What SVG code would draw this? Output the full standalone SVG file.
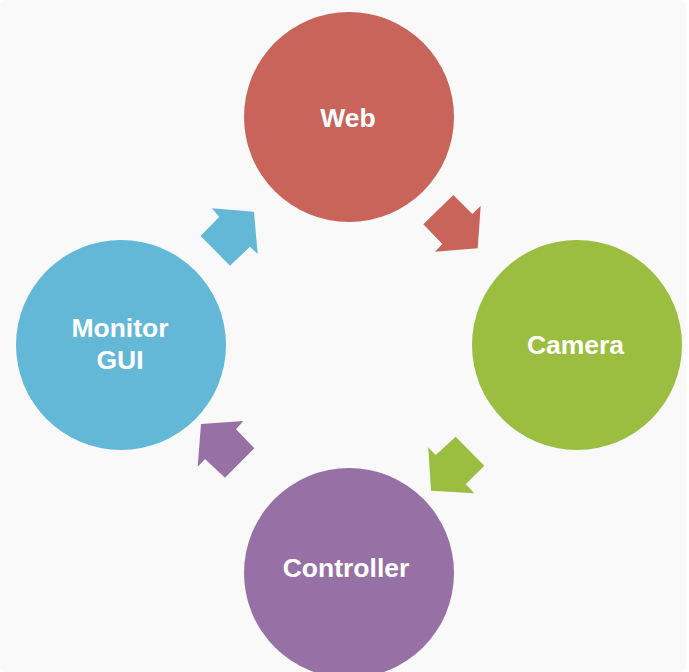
<svg xmlns="http://www.w3.org/2000/svg" width="689" height="672" viewBox="0 0 689 672">
<style>
.lbl{font-family:"Liberation Sans",Arial,sans-serif;font-weight:bold;font-size:26.5px;fill:#ffffff;text-anchor:middle}
</style>
<rect x="0" y="0" width="689" height="672" fill="#ffffff"/>
<rect x="0" y="0" width="686" height="672" rx="6" fill="#f9f9f9"/>
<g id="connectors">
<polygon fill="#c9645a" points="453.3,195 472.3,214 480.7,205.7 477.7,248.3 435,251.7 442.3,244 423.3,224.3"/>
<polygon fill="#9bbe41" points="455.7,436.7 484.3,465.7 465.7,484.3 474.3,493.3 431,490.7 428.3,447.3 435.7,455"/>
<polygon fill="#9771a6" points="243.3,421 236,429.3 254.3,448.3 225,477.7 205,459 197.7,466.7 201,424"/>
<polygon fill="#63b8d8" points="211.7,208.3 254,211.7 257.7,254 250,246.7 230,265.7 200.7,236 219.3,216.7"/>
</g>
<g id="web">
<circle cx="349" cy="117" r="105" fill="#c9645a"/>
<text class="lbl" x="348" y="127">Web</text>
</g>
<g id="camera">
<circle cx="577" cy="345" r="105" fill="#9bbe41"/>
<text class="lbl" x="575.5" y="354">Camera</text>
</g>
<g id="controller">
<circle cx="349" cy="573" r="105" fill="#9771a6"/>
<text class="lbl" x="346" y="577">Controller</text>
</g>
<g id="monitor-gui">
<circle cx="121" cy="345" r="105" fill="#63b8d8"/>
<text class="lbl" x="120" y="337">Monitor</text>
<text class="lbl" x="120" y="368.5">GUI</text>
</g>
</svg>
